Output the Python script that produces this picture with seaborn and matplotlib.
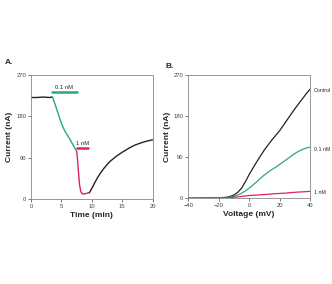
import numpy as np
import pandas as pd
import matplotlib
matplotlib.use("Agg")
import matplotlib.pyplot as plt
import seaborn as sns

# Panel A: current over time
time_ctrl = [0, 1, 2, 3, 3.55]
cur_ctrl = [221, 221, 222, 221, 222]
time_low = [3.55, 4, 4.5, 5, 5.5, 6, 6.5, 7, 7.5]
cur_low = [222, 205, 185, 165, 150, 139, 128, 116, 104]
time_high = [7.5, 7.6, 7.8, 8.0, 8.2, 8.4, 8.7, 9.0, 9.3, 9.6]
cur_high = [104, 95, 60, 30, 16, 12, 11, 12, 13, 14]
time_wash = [9.6, 10, 10.5, 11, 11.5, 12, 12.5, 13, 14, 15, 16, 17, 18, 19, 20]
cur_wash = [14, 23, 36, 48, 58, 67, 75, 82, 93, 102, 110, 117, 122, 126, 129]

# Panel B: current-voltage curves
voltage = [-40, -30, -20, -15, -12.5, -10, -7.5, -5, -2.5, 0, 2.5, 5, 7.5,
           10, 12.5, 15, 17.5, 20, 22.5, 25, 27.5, 30, 32.5, 35, 37.5, 40]
iv_control = [0, 0.5, 1, 2, 4, 7, 13, 22, 36, 52, 66, 80, 93,
              106, 117, 128, 138, 148, 160, 172, 184, 196, 207, 218, 229, 239]
iv_01nM = [0, 0.5, 1, 1.5, 2.5, 4, 7, 11, 16, 22, 29, 36, 44,
           51, 57, 63, 68, 74, 80, 86, 92, 98, 103, 107, 110, 112]
iv_1nM = [0, 0, 0.5, 1, 1.5, 2, 3, 4, 5, 6, 6.5, 7, 7.5,
          8, 8.7, 9.5, 10, 10.5, 11, 11.5, 12.5, 13, 13.5, 14, 14.5, 15]

BLACK = "#222222"
GREEN = "#2aa58a"
PINK = "#e0206a"

sns.set_theme(style="white")
plt.rcParams["font.family"] = ["Liberation Sans", "DejaVu Sans"]

fig = plt.figure(figsize=(3.32, 2.84), dpi=100)
axA = fig.add_axes([0.093, 0.299, 0.367, 0.437])
axB = fig.add_axes([0.567, 0.302, 0.367, 0.434])

sns.lineplot(x=time_ctrl, y=cur_ctrl, ax=axA, color=BLACK, lw=1)
sns.lineplot(x=time_low, y=cur_low, ax=axA, color=GREEN, lw=1)
sns.lineplot(x=time_high, y=cur_high, ax=axA, color=PINK, lw=1)
sns.lineplot(x=time_wash, y=cur_wash, ax=axA, color=BLACK, lw=1)
axA.plot([3.5, 7.5], [233, 233], color=GREEN, lw=1.8)
axA.text(5.4, 238, "0.1 nM", fontsize=4.2, ha="center", va="bottom")
axA.plot([7.5, 9.4], [111, 111], color=PINK, lw=1.8)
axA.text(8.5, 116, "1 nM", fontsize=4.2, ha="center", va="bottom")
axA.set_xlim(0, 20)
axA.set_xticks([0, 5, 10, 15, 20])
axA.set_xlabel("Time (min)", fontsize=6, fontweight="bold", labelpad=2)

sns.lineplot(x=voltage, y=iv_control, ax=axB, color=BLACK, lw=0.9)
sns.lineplot(x=voltage, y=iv_01nM, ax=axB, color=GREEN, lw=0.9)
sns.lineplot(x=voltage, y=iv_1nM, ax=axB, color=PINK, lw=0.9)
axB.text(42.5, 236, "Control", fontsize=3.8, va="center")
axB.text(42.5, 107, "0.1 nM", fontsize=3.8, va="center")
axB.text(42.5, 12, "1 nM", fontsize=3.8, va="center")
axB.set_xlim(-40, 40)
axB.set_xticks([-40, -20, 0, 20, 40])
axB.set_xlabel("Voltage (mV)", fontsize=6, fontweight="bold", labelpad=2)

for ax in (axA, axB):
    ax.set_ylim(0, 270)
    ax.set_yticks([0, 90, 180, 270])
    ax.set_ylabel("Current (nA)", fontsize=6, fontweight="bold", labelpad=2)
    ax.tick_params(labelsize=4.2, length=2, width=0.5, pad=1.5, direction="out",
                   bottom=True, left=True, colors="#444444")
    for s in ax.spines.values():
        s.set_color("#888888")
        s.set_linewidth(0.6)

fig.text(0.015, 0.775, "A.", fontsize=6, fontweight="bold")
fig.text(0.497, 0.762, "B.", fontsize=6, fontweight="bold")

fig.savefig("out.png", dpi=100, facecolor="white")
